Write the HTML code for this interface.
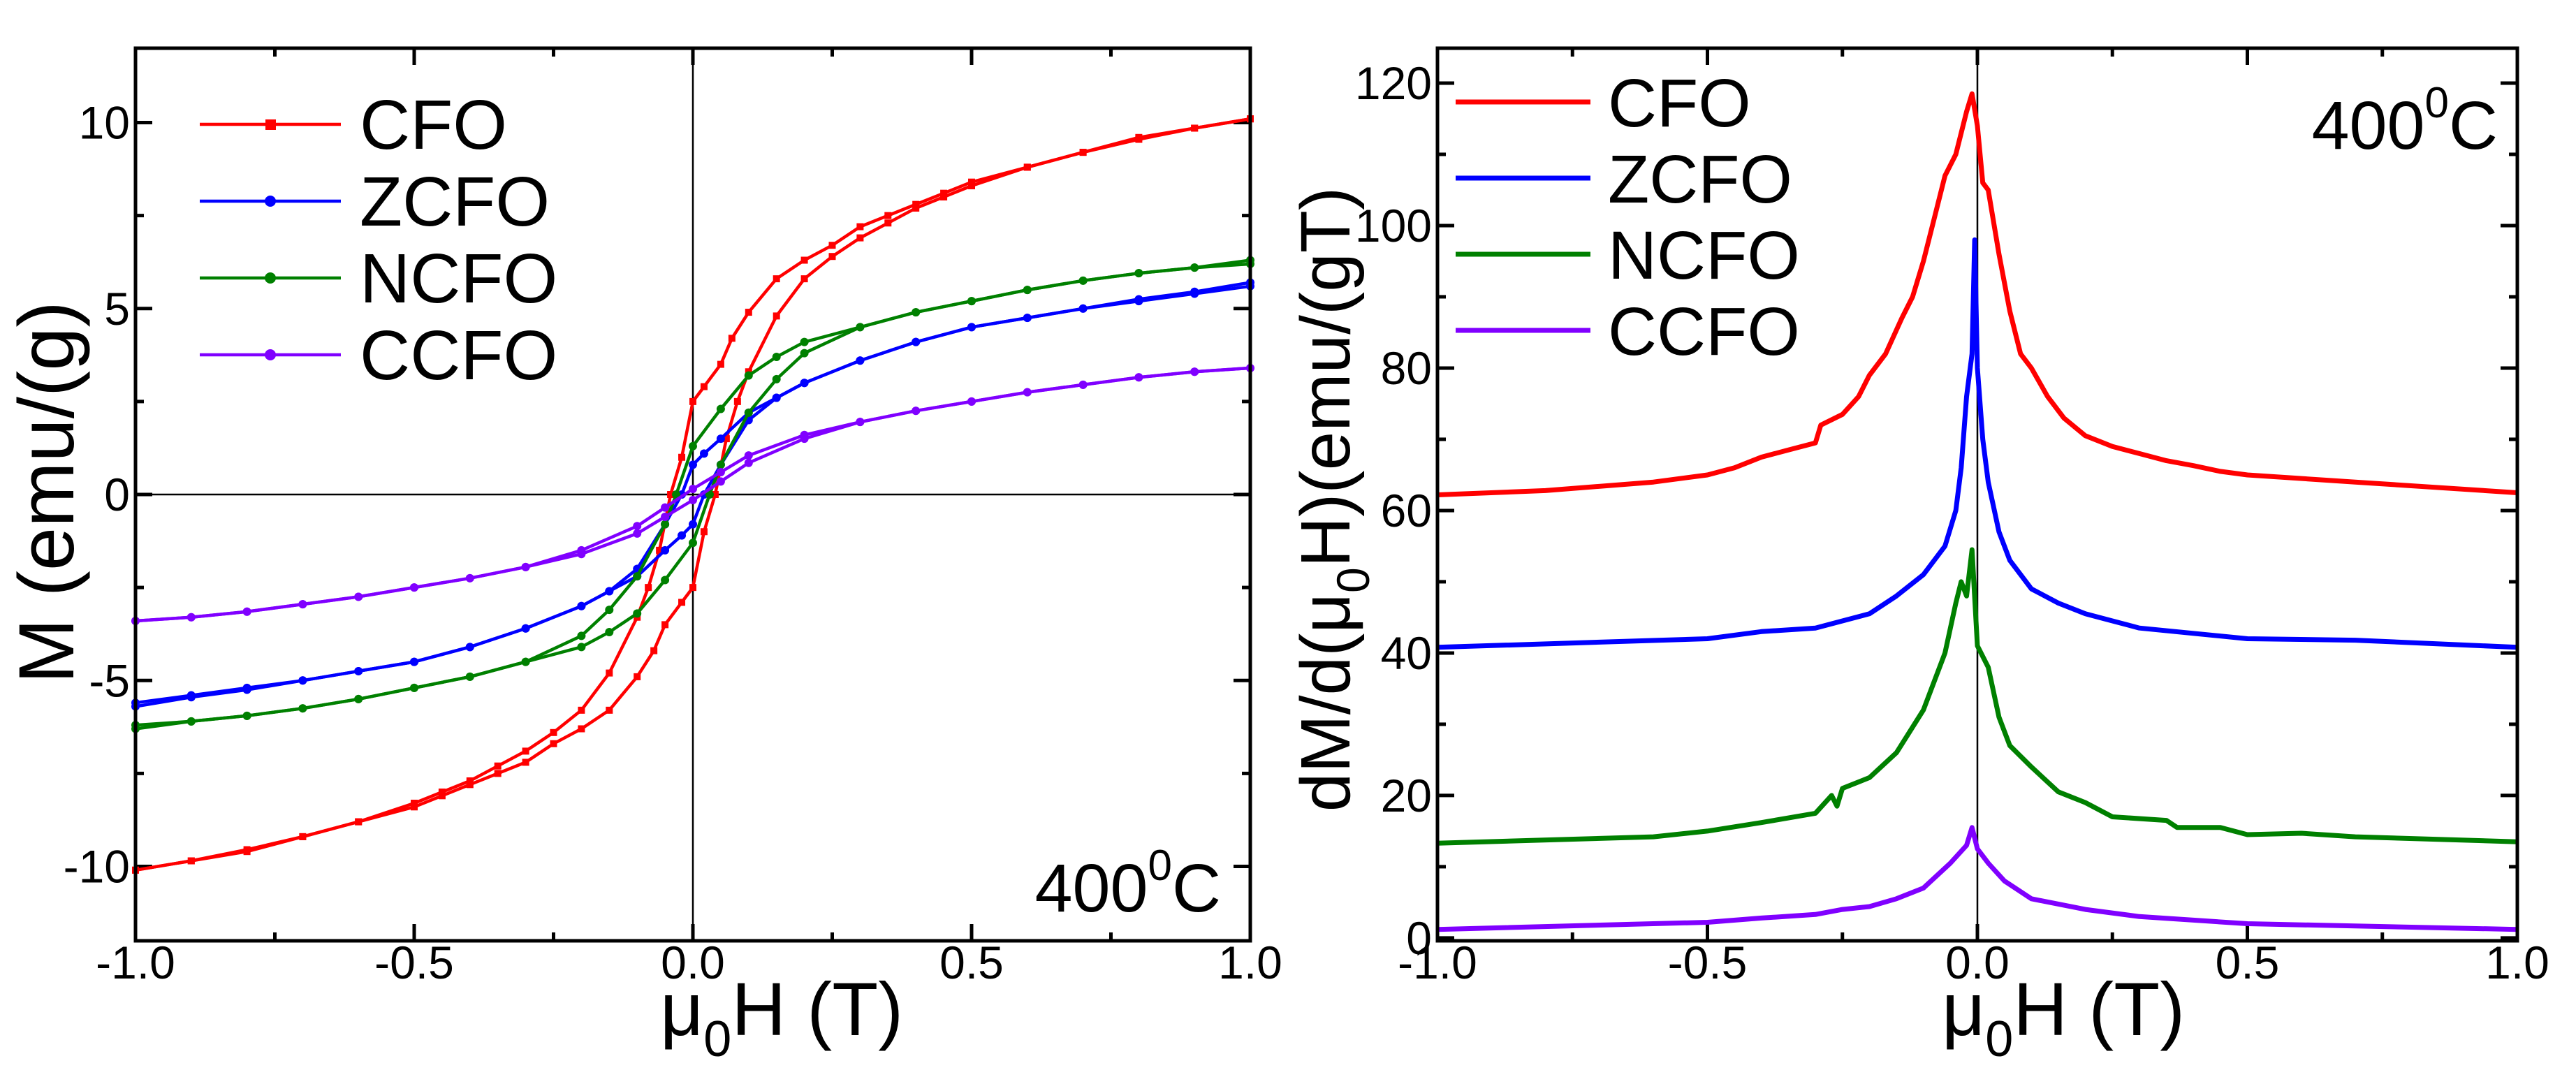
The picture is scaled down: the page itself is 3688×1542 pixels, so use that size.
<!DOCTYPE html>
<html><head><meta charset="utf-8"><style>
html,body{margin:0;padding:0;background:#fff}
svg{display:block;font-family:"Liberation Sans",Arial,sans-serif}
</style></head><body>
<svg id="fig" width="3688" height="1542" viewBox="0 0 3688 1542" xmlns="http://www.w3.org/2000/svg">
<g id="left"></g>
<g id="right"></g>
</svg>
<script>
// Left panel: M(H) hysteresis, upper branch (field descending); lower branch = mirrored
const hCFO = [1.0,0.9,0.8,0.7,0.6,0.5,0.45,0.4,0.35,0.3,0.25,0.2,0.15,0.1,0.07,0.05,0.02,0,-0.02,-0.04,-0.06,-0.08,-0.1,-0.15,-0.2,-0.25,-0.3,-0.35,-0.4,-0.45,-0.5,-0.6,-0.7,-0.8,-0.9,-1.0];
const mCFO = [10.1,9.85,9.6,9.2,8.8,8.4,8.1,7.8,7.5,7.2,6.7,6.3,5.8,4.9,4.2,3.5,2.9,2.5,1.0,0,-1.5,-2.5,-3.3,-4.8,-5.8,-6.4,-6.9,-7.3,-7.7,-8.0,-8.3,-8.8,-9.2,-9.55,-9.85,-10.1];
const hZCFO = [1.0,0.9,0.8,0.7,0.6,0.5,0.4,0.3,0.2,0.15,0.1,0.05,0.02,0,-0.02,-0.05,-0.1,-0.15,-0.2,-0.3,-0.4,-0.5,-0.6,-0.7,-0.8,-0.9,-1.0];
const mZCFO = [5.6,5.4,5.2,5.0,4.75,4.5,4.1,3.6,3.0,2.6,2.2,1.5,1.1,0.8,0,-0.8,-2.0,-2.6,-3.0,-3.6,-4.1,-4.5,-4.75,-5.0,-5.25,-5.45,-5.7];
const hNCFO = [1.0,0.9,0.8,0.7,0.6,0.5,0.4,0.3,0.2,0.15,0.1,0.05,0,-0.03,-0.05,-0.1,-0.15,-0.2,-0.3,-0.4,-0.5,-0.6,-0.7,-0.8,-0.9,-1.0];
const mNCFO = [6.2,6.1,5.95,5.75,5.5,5.2,4.9,4.5,4.1,3.7,3.2,2.3,1.3,0,-0.8,-2.2,-3.1,-3.8,-4.5,-4.9,-5.2,-5.5,-5.75,-5.95,-6.1,-6.3];
const hCCFO = [1.0,0.9,0.8,0.7,0.6,0.5,0.4,0.3,0.2,0.1,0.05,0,-0.05,-0.1,-0.2,-0.3,-0.4,-0.5,-0.6,-0.7,-0.8,-0.9,-1.0];
const mCCFO = [3.4,3.3,3.15,2.95,2.75,2.5,2.25,1.95,1.6,1.05,0.6,0.15,-0.35,-0.85,-1.5,-1.95,-2.25,-2.5,-2.75,-2.95,-3.15,-3.3,-3.4];
// Right panel: dM/dH
const dCFOx = [-1,-0.8,-0.6,-0.5,-0.45,-0.4,-0.35,-0.3,-0.29,-0.25,-0.22,-0.2,-0.17,-0.14,-0.12,-0.1,-0.08,-0.06,-0.04,-0.02,-0.01,0,0.01,0.02,0.04,0.06,0.08,0.1,0.13,0.16,0.2,0.25,0.3,0.35,0.4,0.45,0.5,0.7,1.0];
const dCFOy = [62.2,62.8,64,65,66,67.5,68.5,69.5,72,73.5,76,79,82,87,90,95,101,107,110,116,118.5,114,106,105,96,88,82,80,76,73,70.5,69,68,67,66.3,65.5,65,64,62.5];
const dZCFOx = [-1,-0.5,-0.4,-0.3,-0.2,-0.15,-0.1,-0.06,-0.04,-0.03,-0.02,-0.01,-0.005,0,0.01,0.02,0.04,0.06,0.1,0.15,0.2,0.3,0.5,0.7,1.0];
const dZCFOy = [40.8,42,43,43.5,45.5,48,51,55,60,66,76,82,98,80,70,64,57,53,49,47,45.5,43.5,42,41.8,40.8];
const dNCFOx = [-1,-0.6,-0.5,-0.4,-0.3,-0.27,-0.26,-0.25,-0.2,-0.15,-0.1,-0.06,-0.04,-0.03,-0.02,-0.01,0,0.02,0.04,0.06,0.1,0.15,0.2,0.25,0.35,0.37,0.45,0.5,0.6,0.7,1.0];
const dNCFOy = [13.3,14.2,15,16.2,17.5,20,18.5,21,22.5,26,32,40,47,50,48,54.5,41,38,31,27,24,20.5,19,17,16.5,15.5,15.5,14.5,14.7,14.2,13.5];
const dCCFOx = [-1,-0.5,-0.4,-0.3,-0.25,-0.2,-0.15,-0.1,-0.05,-0.02,-0.01,0,0.02,0.05,0.1,0.2,0.3,0.5,1.0];
const dCCFOy = [1.2,2.2,2.8,3.3,4,4.4,5.5,7,10.5,13,15.5,12.5,10.5,8,5.5,4,3,2,1.2];
const xTicks = ["-1.0","-0.5","0.0","0.5","1.0"];
const yTicksL = ["-10","-5","0","5","10"];
const yTicksR = ["0","20","40","60","80","100","120"];

const NS="http://www.w3.org/2000/svg";
function mk(parent,tag,attrs,text){const e=document.createElementNS(NS,tag);for(const k in attrs)e.setAttribute(k,attrs[k]);if(text!==undefined)e.textContent=text;parent.appendChild(e);return e;}

function panel(g,x0,x1,y0,y1,ymin,ymax,yMajor,yMinor,yLabels){
  const sx=v=>x0+(v+1)/2*(x1-x0);
  const sy=v=>y1-(v-ymin)/(ymax-ymin)*(y1-y0);
  for(let v=-1;v<=1.0001;v+=0.25){
    const major=Math.abs(v*2-Math.round(v*2))<1e-6;
    const L=major?24:12;
    const t1=mk(g,'line',{x1:sx(v),x2:sx(v),y1:y1,y2:y1-L,stroke:'#000','stroke-width':5});
    
    const t2=mk(g,'line',{x1:sx(v),x2:sx(v),y1:y0,y2:y0+L,stroke:'#000','stroke-width':5});
    
  }
  const start=Math.ceil(ymin/yMinor)*yMinor;
  for(let v=start;v<=ymax+1e-6;v+=yMinor){
    const major=Math.abs(v/yMajor-Math.round(v/yMajor))<1e-6;
    const L=major?24:12;
    const t1=mk(g,'line',{x1:x0,x2:x0+L,y1:sy(v),y2:sy(v),stroke:'#000','stroke-width':5});
    
    const t2=mk(g,'line',{x1:x1,x2:x1-L,y1:sy(v),y2:sy(v),stroke:'#000','stroke-width':5});
    
  }
  xTicks.forEach(s=>{
    const t=mk(g,'text',{x:sx(parseFloat(s)),y:y1+54,'font-size':66,'text-anchor':'middle'},s);
    
  });
  yLabels.forEach(s=>{
    const t=mk(g,'text',{x:x0-8,y:sy(parseFloat(s))+23,'font-size':66,'text-anchor':'end'},s);
    
  });
  const vl=mk(g,'line',{x1:sx(0),x2:sx(0),y1:y0,y2:y1,stroke:'#000','stroke-width':2.5});
  
  return {sx,sy};
}
function frame(g,x0,x1,y0,y1){
  const f=mk(g,'rect',{x:x0,y:y0,width:x1-x0,height:y1-y0,fill:'none',stroke:'#000','stroke-width':5});
  
}
function pathD(xs,ys,sx,sy){return xs.map((x,i)=>(i?'L':'M')+sx(x).toFixed(1)+' '+sy(ys[i]).toFixed(1)).join(' ');}

// LEFT
const gl=document.getElementById('left');
const L={x0:194,x1:1790,y0:69,y1:1347};
const aL=panel(gl,L.x0,L.x1,L.y0,L.y1,-12,12,5,2.5,yTicksL);
const hl=mk(gl,'line',{x1:L.x0,x2:L.x1,y1:aL.sy(0),y2:aL.sy(0),stroke:'#000','stroke-width':2.5});

const loops=[["CFO",hCFO,mCFO,"#ff0000",true],["ZCFO",hZCFO,mZCFO,"#0000ff",false],["NCFO",hNCFO,mNCFO,"#008000",false],["CCFO",hCCFO,mCCFO,"#8000ff",false]];
loops.forEach(([name,hs,ms,col,sq])=>{
  const g=mk(gl,'g',{});
  
  const lh=hs.map(h=>-h), lm=ms.map(m=>-m);
  [[hs,ms],[lh,lm]].forEach(([xs,ys])=>{
    const p=mk(g,'path',{d:pathD(xs,ys,aL.sx,aL.sy),fill:'none',stroke:col,'stroke-width':4.5,'stroke-linejoin':'round'});
    
    xs.forEach((x,i)=>{
      let m;
      if(sq){m=mk(g,'rect',{x:aL.sx(x)-5,y:aL.sy(ys[i])-5,width:10,height:10,fill:col});}
      else{m=mk(g,'circle',{cx:aL.sx(x),cy:aL.sy(ys[i]),r:6,fill:col});}
      
    });
  });
});
frame(gl,L.x0,L.x1,L.y0,L.y1);
loops.forEach(([name,hs,ms,col,sq],i)=>{
  const y=178+i*110;
  const g=mk(gl,'g',{});
  
  mk(g,'line',{x1:286,x2:488,y1:y,y2:y,stroke:col,'stroke-width':4.5});
  if(sq)mk(g,'rect',{x:380,y:y-7,width:15,height:15,fill:col});else mk(g,'circle',{cx:387,cy:y,r:8,fill:col});
  mk(g,'text',{x:515,y:y+35,'font-size':100},name);
});
const tl=mk(gl,'text',{x:1748,y:1305,'font-size':97,'text-anchor':'end'});

tl.innerHTML='400<tspan dy="-45" font-size="62">0</tspan><tspan dy="45">C</tspan>';
const ytl=mk(gl,'text',{transform:'translate(105,705) rotate(-90)','font-size':112,'text-anchor':'middle'},'M (emu/(g)');

const xtl=mk(gl,'text',{x:945,y:1482,'font-size':108});

xtl.innerHTML='μ<tspan dy="30" font-size="72">0</tspan><tspan dy="-30">H (T)</tspan>';

// RIGHT
const gr=document.getElementById('right');
const R={x0:2058,x1:3604,y0:69,y1:1347};
const aR=panel(gr,R.x0,R.x1,R.y0,R.y1,-0.4,124.9,20,10,yTicksR);
const dser=[["CFO",dCFOx,dCFOy,"#ff0000"],["ZCFO",dZCFOx,dZCFOy,"#0000ff"],["NCFO",dNCFOx,dNCFOy,"#008000"],["CCFO",dCCFOx,dCCFOy,"#8000ff"]];
dser.forEach(([name,xs,ys,col])=>{
  const p=mk(gr,'path',{d:pathD(xs,ys,aR.sx,aR.sy),fill:'none',stroke:col,'stroke-width':7,'stroke-linejoin':'round'});
  
});
frame(gr,R.x0,R.x1,R.y0,R.y1);
dser.forEach(([name,xs,ys,col],i)=>{
  const y=146+i*109;
  const g=mk(gr,'g',{});
  
  mk(g,'line',{x1:2084,x2:2277,y1:y,y2:y,stroke:col,'stroke-width':7});
  mk(g,'text',{x:2302,y:y+35,'font-size':97},name);
});
const tr=mk(gr,'text',{x:3576,y:213,'font-size':97,'text-anchor':'end'});

tr.innerHTML='400<tspan dy="-45" font-size="62">0</tspan><tspan dy="45">C</tspan>';
const ytr=mk(gr,'text',{transform:'translate(1932,715) rotate(-90)','font-size':100,'text-anchor':'middle'});

ytr.innerHTML='dM/d(μ<tspan dy="28" font-size="66">0</tspan><tspan dy="-28">H)(emu/(gT)</tspan>';
const xtr=mk(gr,'text',{x:2780,y:1482,'font-size':108});

xtr.innerHTML='μ<tspan dy="30" font-size="72">0</tspan><tspan dy="-30">H (T)</tspan>';
</script>
</body></html>
